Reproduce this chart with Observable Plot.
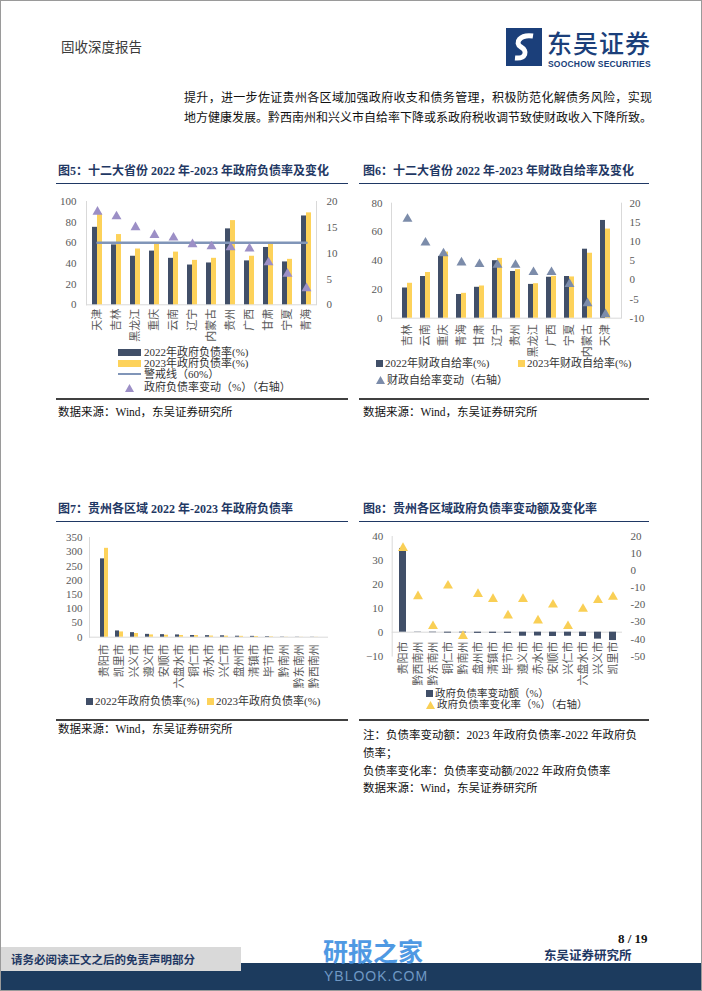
<!DOCTYPE html>
<html><head><meta charset="utf-8">
<script src="https://cdn.jsdelivr.net/npm/d3@7"></script>
<script src="https://cdn.jsdelivr.net/npm/@observablehq/plot@0.6"></script>
<style>
html,body{margin:0;padding:0;background:#fff}
#page{position:relative;width:702px;height:991px;overflow:hidden;font-family:"Liberation Serif","Noto Sans CJK SC",serif;color:#111;box-sizing:border-box;border:1px solid #9a9a9a}
.abs{position:absolute;white-space:nowrap}
.title{font-size:12px;line-height:14px;font-weight:bold;color:#1f3864}
.src{font-size:11.5px;line-height:14px;color:#111}
.leg{font-size:11px;line-height:11px;color:#333;display:flex;align-items:center}
</style></head><body><div id="page"></div>
<script>
// ---------- data ----------
const prov5 = ["天津","吉林","黑龙江","重庆","云南","辽宁","内蒙古","贵州","广西","甘肃","宁夏","青海"];
const debt5_2022 = [75,58,47,52,45,38.5,40.5,73.5,42.5,55.5,41.5,86];
const debt5_2023 = [88,68,54,59,51,43,45,81.5,47,60,44,89];
const debt5_chg = [18.0,17.1,15.0,13.5,13.0,11.7,11.3,11.1,10.9,8.2,6.0,3.2];
const warn5 = 60;
const yTicks5 = [0,20,40,60,80,100];
const yTicksR5 = [0,5,10,15,20];

const prov6 = ["吉林","云南","重庆","青海","甘肃","辽宁","贵州","黑龙江","广西","宁夏","内蒙古","天津"];
const self6_2022 = [21,29,43,16.5,21.5,40,32.5,23.5,28.5,29,48,68];
const self6_2023 = [24.3,31.8,46,17.3,22.4,41.6,33.8,24,29.1,28.7,45.2,62];
const self6_chg = [15.9,9.7,6.9,4.5,4.1,3.9,3.9,2.0,2.0,-1.1,-6.1,-9.0];
const yTicks6 = [0,20,40,60,80];
const yTicksR6 = [-10,-5,0,5,10,15,20];

const city7 = ["贵阳市","凯里市","兴义市","遵义市","安顺市","六盘水市","铜仁市","赤水市","兴仁市","盘州市","清镇市","毕节市","黔南州","黔东南州","黔西南州"];
const debt7_2022 = [275,22,16,10,9,8,6,5.5,5,3.5,3,2,0.8,0.6,0.5];
const debt7_2023 = [312,18.5,13,8,7,6,5.5,4,3.5,3,2.5,1.5,0.5,0.4,0.4];
const yTicks7 = [0,50,100,150,200,250,300,350];

const city8 = ["贵阳市","黔西南州","黔东南州","铜仁市","黔南州","盘州市","清镇市","毕节市","遵义市","赤水市","安顺市","兴仁市","六盘水市","兴义市","凯里市"];
const chgAmt8 = [35,-0.1,-0.2,-0.4,-0.3,-0.5,-0.5,-0.5,-1.7,-1.6,-1.8,-1.7,-1.8,-2.9,-3.5];
const chgRate8 = [13.2,-15.0,-32.5,-8.8,-38.3,-13.7,-16.6,-26.3,-16.6,-29.2,-19.9,-32.5,-22.4,-17.3,-15.4];
const yTicks8 = [-10,0,10,20,30,40];
const yTicksR8 = [-50,-40,-30,-20,-10,0,10,20];

// ---------- style ----------
const FONT = '"Liberation Serif","Noto Sans CJK SC",serif';
const DARK = "#414f68", YEL = "#fdd25a", WARN = "#8095b8", PURPLE = "#9c8fc6", BLUEGRAY = "#7c8caa", YEL8 = "#f9cf55";
const AXC = "#d9d9d9";
const page = document.getElementById("page");

function add(html, left, top, cls, style) {
  const d = document.createElement("div");
  d.className = "abs " + (cls || "");
  d.style.left = left + "px"; d.style.top = top + "px";
  if (style) d.style.cssText += style;
  d.innerHTML = html;
  page.appendChild(d);
  return d;
}
function hline(left, top, width, thick, color) {
  add("", left, top, "", `width:${width}px;height:${thick}px;background:${color}`);
}
function place(el, left, top) {
  el.style.position = "absolute"; el.style.left = left + "px"; el.style.top = top + "px";
  page.appendChild(el);
}
const sw = {
  rect: c => `<span style="display:inline-block;width:23px;height:7px;background:${c};margin-right:3px"></span>`,
  line: c => `<span style="display:inline-block;width:23px;height:2.5px;background:${c};margin-right:3px"></span>`,
  sq: c => `<span style="display:inline-block;width:7px;height:7px;background:${c};margin-right:2px"></span>`,
  tri: c => `<svg width="9" height="8" style="margin-right:2px"><path d="M4.5 0L9 8L0 8Z" fill="${c}"/></svg>`,
  triW: c => `<span style="display:inline-block;width:23px;text-align:center;margin-right:3px;line-height:8px"><svg width="9" height="8"><path d="M4.5 0L9 8L0 8Z" fill="${c}"/></svg></span>`
};
const pstyle = {fontFamily: FONT, fontSize: "11px", color: "#595959", overflow: "visible", background: "none"};

// ---------- header ----------
add("固收深度报告", 60, 37, "", "font-size:13.5px;line-height:16px;color:#3a3a3a;font-family:'Noto Sans CJK SC'");
add(`<svg width="36" height="38"><rect width="36" height="38" fill="#1b3f7a"/><path d="M27 8 C14 6 8 15 15 19 C22 23 20 31 9 30" stroke="#fff" stroke-width="5" fill="none"/></svg>`, 505, 27);
add("东吴证券", 546, 28, "", "font-size:25px;line-height:27px;color:#1b3f7a;font-family:'Noto Sans CJK SC';font-weight:500;letter-spacing:1px");
add("SOOCHOW SECURITIES", 547, 59, "", "font-size:8.5px;line-height:9px;color:#1b3f7a;font-family:'Liberation Sans';font-weight:bold;letter-spacing:0.2px");

add("提升，进一步佐证贵州各区域加强政府收支和债务管理，积极防范化解债务风险，实现", 183, 90, "", "font-size:12px;line-height:14px;width:468px;text-align:justify;text-align-last:justify;white-space:normal");
add("地方健康发展。黔西南州和兴义市自给率下降或系政府税收调节致使财政收入下降所致。", 183, 110, "", "font-size:12px;line-height:14px;width:468px;text-align:justify;text-align-last:justify;white-space:normal");

// ---------- titles & rules ----------
add("图5：十二大省份 2022 年-2023 年政府负债率及变化", 57, 163, "title");
add("图6：十二大省份 2022 年-2023 年财政自给率及变化", 362, 163, "title");
hline(55, 182, 292, 1, "#1f3864");
hline(358, 182, 290, 1, "#1f3864");
add("图7：贵州各区域 2022 年-2023 年政府负债率", 57, 501, "title");
add("图8：贵州各区域政府负债率变动额及变化率", 362, 501, "title");
hline(55, 520, 292, 1, "#1f3864");
hline(358, 520, 290, 1, "#1f3864");

hline(55, 397, 292, 1.5, "#404040");
hline(358, 397, 290, 1.5, "#404040");
hline(55, 718, 292, 1.5, "#404040");
hline(358, 718, 290, 1.5, "#404040");

add("数据来源：Wind，东吴证券研究所", 57, 404, "src");
add("数据来源：Wind，东吴证券研究所", 362, 404, "src");
add("数据来源：Wind，东吴证券研究所", 57, 721, "src");
add("注：负债率变动额：2023 年政府负债率-2022 年政府负", 362, 727, "src");
add("债率；", 362, 745, "src");
add("负债率变化率：负债率变动额/2022 年政府负债率", 362, 763, "src");
add("数据来源：Wind，东吴证券研究所", 362, 780, "src");

// ---------- chart 5 ----------
const d5 = prov5.map((p, i) => ({p, a: debt5_2022[i], b: debt5_2023[i], c: debt5_chg[i]}));
const c5 = Plot.plot({
  width: 288, height: 160, marginLeft: 28, marginRight: 30, marginTop: 10, marginBottom: 46.7,
  style: pstyle,
  x: {domain: prov5, paddingInner: 0.485, paddingOuter: 0.17, label: null},
  y: {domain: [0, 100], label: null},
  marks: [
    Plot.frame({anchor: "left", stroke: AXC}),
    Plot.frame({anchor: "right", stroke: AXC}),
    Plot.ruleY([0], {stroke: AXC}),
    Plot.barY(d5, {x: "p", y: "a", fill: DARK, insetRight: 5}),
    Plot.barY(d5, {x: "p", y: "b", fill: YEL, insetLeft: 5}),
    Plot.lineY(d5, {x: "p", y: () => warn5, stroke: WARN, strokeWidth: 2.5}),
    Plot.dot(d5, {x: "p", y: d => d.c * 5, symbol: "triangle", r: 3.7, fill: PURPLE}),
    Plot.axisY(yTicks5, {anchor: "left", tickSize: 0, tickPadding: 10}),
    Plot.axisY(yTicksR5.map(v => v * 5), {anchor: "right", tickSize: 0, tickPadding: 10, tickFormat: d => d / 5}),
    Plot.axisX({tickSize: 0, tickRotate: -90, tickPadding: 4})
  ]
});
place(c5, 57, 190);
add(sw.rect(DARK) + "2022年政府负债率(%)", 117, 345.5, "leg");
add(sw.rect(YEL) + "2023年政府负债率(%)", 117, 356.5, "leg");
add(sw.line(WARN) + "警戒线（60%）", 117, 367.5, "leg");
add(sw.triW(PURPLE) + "政府负债率变动（%）（右轴）", 117, 381, "leg");

// ---------- chart 6 ----------
const d6 = prov6.map((p, i) => ({p, a: self6_2022[i], b: self6_2023[i], c: self6_chg[i]}));
const r6 = v => (v + 10) * 8 / 3;
const c6 = Plot.plot({
  width: 285, height: 170, marginLeft: 30, marginRight: 25, marginTop: 11.7, marginBottom: 43.3,
  style: pstyle,
  x: {domain: prov6, paddingInner: 0.472, paddingOuter: 0.306, label: null},
  y: {domain: [0, 80], label: null},
  marks: [
    Plot.frame({anchor: "left", stroke: AXC}),
    Plot.frame({anchor: "right", stroke: AXC}),
    Plot.ruleY([0], {stroke: AXC}),
    Plot.barY(d6, {x: "p", y: "a", fill: DARK, insetRight: 5}),
    Plot.barY(d6, {x: "p", y: "b", fill: YEL, insetLeft: 5}),
    Plot.dot(d6, {x: "p", y: d => r6(d.c), symbol: "triangle", r: 3.7, fill: BLUEGRAY}),
    Plot.axisY(yTicks6, {anchor: "left", tickSize: 0, tickPadding: 9}),
    Plot.axisY(yTicksR6.map(r6), {anchor: "right", tickSize: 0, tickPadding: 8, tickFormat: d => Math.round(d * 3 / 8 - 10)}),
    Plot.axisX({tickSize: 0, tickRotate: -90, tickPadding: 6})
  ]
});
place(c6, 360, 190);
add(sw.sq(DARK) + "2022年财政自给率(%)", 375, 356.5, "leg");
add(sw.sq(YEL) + "2023年财政自给率(%)", 517, 356.5, "leg");
add(sw.tri(BLUEGRAY) + "财政自给率变动（右轴）", 375, 373.5, "leg");

// ---------- chart 7 ----------
const d7 = city7.map((p, i) => ({p, a: debt7_2022[i], b: debt7_2023[i]}));
const c7 = Plot.plot({
  width: 288, height: 160, marginLeft: 31, marginRight: 18, marginTop: 6, marginBottom: 54.3,
  style: pstyle,
  x: {domain: city7, paddingInner: 0.49, paddingOuter: 0.36, label: null},
  y: {domain: [0, 350], label: null},
  marks: [
    Plot.frame({anchor: "left", stroke: AXC}),
    Plot.ruleY([0], {stroke: AXC}),
    Plot.barY(d7, {x: "p", y: "a", fill: DARK, insetRight: 4}),
    Plot.barY(d7, {x: "p", y: "b", fill: YEL, insetLeft: 4}),
    Plot.axisY(yTicks7, {anchor: "left", tickSize: 0, tickPadding: 7}),
    Plot.axisX({tickSize: 0, tickRotate: -90, tickPadding: 7})
  ]
});
place(c7, 57, 530);
add(sw.sq(DARK) + "2022年政府负债率(%)", 85, 694.5, "leg");
add(sw.sq(YEL) + "2023年政府负债率(%)", 206, 694.5, "leg");

// ---------- chart 8 ----------
const d8 = city8.map((p, i) => ({p, a: chgAmt8[i], c: chgRate8[i]}));
const r8 = v => (v + 50) * 5 / 7 - 10;
const c8 = Plot.plot({
  width: 285, height: 160, marginLeft: 30.7, marginRight: 24, marginTop: 5, marginBottom: 35.4,
  style: pstyle,
  x: {domain: city8, paddingInner: 0.56, paddingOuter: 0.335, label: null},
  y: {domain: [-10, 40], label: null},
  marks: [
    Plot.frame({anchor: "left", stroke: AXC}),
    Plot.ruleY([0], {stroke: AXC}),
    Plot.barY(d8, {x: "p", y: "a", fill: DARK}),
    Plot.dot(d8, {x: "p", y: d => r8(d.c), symbol: "triangle", r: 3.7, fill: YEL8}),
    Plot.axisY(yTicks8, {anchor: "left", tickSize: 0, tickPadding: 9}),
    Plot.axisY(yTicksR8.map(r8), {anchor: "right", tickSize: 0, tickPadding: 8, tickFormat: d => Math.round((d + 10) * 7 / 5 - 50)}),
    Plot.axisX({tickSize: 0, tickRotate: -90, tickPadding: -14.6})
  ]
});
place(c8, 360, 530);
add(sw.sq(DARK) + "政府负债率变动额（%）", 425, 686.5, "leg", "font-size:10.5px");
add(sw.tri(YEL8) + "政府负债率变化率（%）（右轴）", 425, 698, "leg", "font-size:10.5px");

// ---------- footer ----------
add("", 0, 962, "", "width:702px;height:27px;background:#1c3b5e");
add("请务必阅读正文之后的免责声明部分", 0, 946, "", "width:240px;height:24px;background:#d9d9d9;font-size:11.5px;font-weight:bold;color:#1f3864;line-height:24px;padding-left:10px;box-sizing:border-box;font-family:'Noto Sans CJK SC'");
add("研报之家", 322, 936, "", "font-size:25px;line-height:27px;font-weight:bold;color:#3d8fe0;font-family:'Noto Sans CJK SC';opacity:0.9");
add("YBLOOK.COM", 323, 967, "", "font-size:14px;line-height:16px;color:#6f98c4;font-family:'Liberation Sans';letter-spacing:1px");
add("8 / 19", 617, 931, "", "font-size:13px;line-height:14px;font-weight:bold;color:#111");
add("东吴证券研究所", 543, 947, "", "font-size:12.5px;line-height:14px;font-weight:bold;color:#1f3864;font-family:'Noto Sans CJK SC'");
</script></body></html>
